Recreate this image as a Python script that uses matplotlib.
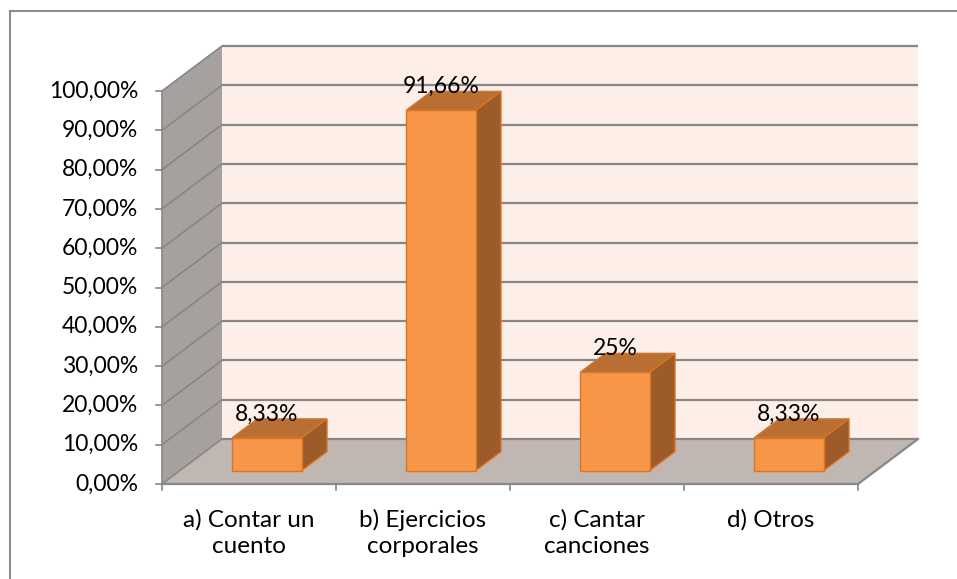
import matplotlib
matplotlib.use("Agg")
import matplotlib.pyplot as plt
from matplotlib.patches import Polygon
from matplotlib.lines import Line2D

categories = ["a) Contar un\ncuento", "b) Ejercicios\ncorporales", "c) Cantar\ncanciones", "d) Otros"]
values = [8.33, 91.66, 25.0, 8.33]
value_labels = ["8,33%", "91,66%", "25%", "8,33%"]
yticks = [0, 10, 20, 30, 40, 50, 60, 70, 80, 90, 100]
ytick_labels = ["0,00%", "10,00%", "20,00%", "30,00%", "40,00%", "50,00%",
                "60,00%", "70,00%", "80,00%", "90,00%", "100,00%"]

W, H = 957, 579
fig = plt.figure(figsize=(W / 100, H / 100), dpi=100)
ax = fig.add_axes([0, 0, 1, 1])
ax.axis("off")

# pixel geometry of the front frame
px_left, px_right = 162, 858
px_y0, px_y100 = 484, 91
ux = (px_right - px_left) / 4.0          # px per category unit
uy = (px_y0 - px_y100) / 100.0           # px per percent
ax.set_xlim(-0.5 - px_left / ux, -0.5 + (W - px_left) / ux)
ax.set_ylim(-(H - px_y0) / uy, px_y0 / uy)

DX = 60 / ux      # depth offset in x units
DY = 45 / uy      # depth offset in y units

FONT = "Lato"
FS_NUM = 16.5
FS_CAT = 17.5

back_col = "#FDEEE7"
side_col = "#A6A19E"
floor_col = "#C0B7B3"
grid_col = "#878787"

xl, xr = -0.5, 3.5
ymax = 100

# side wall
ax.add_patch(Polygon([(xl, 0), (xl + DX, DY), (xl + DX, ymax + DY), (xl, ymax)],
                     closed=True, facecolor=side_col, edgecolor="none", zorder=1))
# back wall
ax.add_patch(Polygon([(xl + DX, DY), (xr + DX, DY), (xr + DX, ymax + DY), (xl + DX, ymax + DY)],
                     closed=True, facecolor=back_col, edgecolor="none", zorder=1))
# floor
ax.add_patch(Polygon([(xl, 0), (xr, 0), (xr + DX, DY), (xl + DX, DY)],
                     closed=True, facecolor=floor_col, edgecolor="none", zorder=1))

# gridlines on back wall and side wall
for t in yticks:
    ax.plot([xl + DX, xr + DX], [t + DY, t + DY], color=grid_col, lw=1.6, zorder=2,
            solid_capstyle="butt")
    ax.plot([xl, xl + DX], [t, t + DY], color=grid_col, lw=1.2, zorder=2)
# floor edges
ax.plot([xl, xr, xr + DX], [0, 0, DY], color=grid_col, lw=1.6, zorder=2)
# front vertical axis
ax.plot([xl, xl], [0, ymax], color=grid_col, lw=1.2, zorder=2)

# y ticks and labels
tk = 6 / ux
for t, lab in zip(yticks, ytick_labels):
    ax.plot([xl - tk, xl], [t, t], color=grid_col, lw=1.2, zorder=2)
    ax.text(xl - 24 / ux, t, lab, ha="right", va="center", fontsize=FS_NUM,
            family=FONT, color="black")

# x ticks
for i in range(5):
    ax.plot([xl + i, xl + i], [0, -6 / uy], color=grid_col, lw=1.2, zorder=2)

# bars
D0, D1 = 0.30, 0.72
bw = 0.40
face_col = "#F79646"
top_col = "#B96F31"
side_bar_col = "#9C5B28"
edge_col = "#D5762A"
x = list(range(len(values)))
xf = [i + D0 * DX for i in x]
b0 = D0 * DY
dd = D1 - D0
for i in x:
    v = values[i]
    cx = xf[i]
    l, r = cx - bw / 2, cx + bw / 2
    top = [(l, v + b0), (r, v + b0), (r + dd * DX, v + b0 + dd * DY), (l + dd * DX, v + b0 + dd * DY)]
    side = [(r, b0), (r + dd * DX, b0 + dd * DY), (r + dd * DX, v + b0 + dd * DY), (r, v + b0)]
    ax.add_patch(Polygon(top, closed=True, facecolor=top_col, edgecolor=edge_col, lw=1.0, zorder=4 + i))
    ax.add_patch(Polygon(side, closed=True, facecolor=side_bar_col, edgecolor=edge_col, lw=1.0, zorder=4 + i))
ax.bar(xf, values, bottom=b0, width=bw, color=face_col, edgecolor=edge_col, lw=1.0, zorder=10)

# data labels
for i in x:
    ax.text(xf[i], values[i] + b0 + dd * DY - 0.4, value_labels[i], ha="center",
            va="baseline", fontsize=FS_NUM, family=FONT, color="black", zorder=20)

# category labels
for i, lab in zip(x, categories):
    ax.text(i, -25 / uy, lab, ha="center", va="top", fontsize=FS_CAT,
            family=FONT, color="black", linespacing=1.3)

# chart border (left and top)
fig.add_artist(Line2D([9.5 / W, 9.5 / W], [0, 1 - 11 / H], color="#8C8C8C", lw=1.5,
                      transform=fig.transFigure))
fig.add_artist(Line2D([9.5 / W, 1], [1 - 11 / H, 1 - 11 / H], color="#8C8C8C", lw=1.5,
                      transform=fig.transFigure))

fig.savefig("out.png", dpi=100)
